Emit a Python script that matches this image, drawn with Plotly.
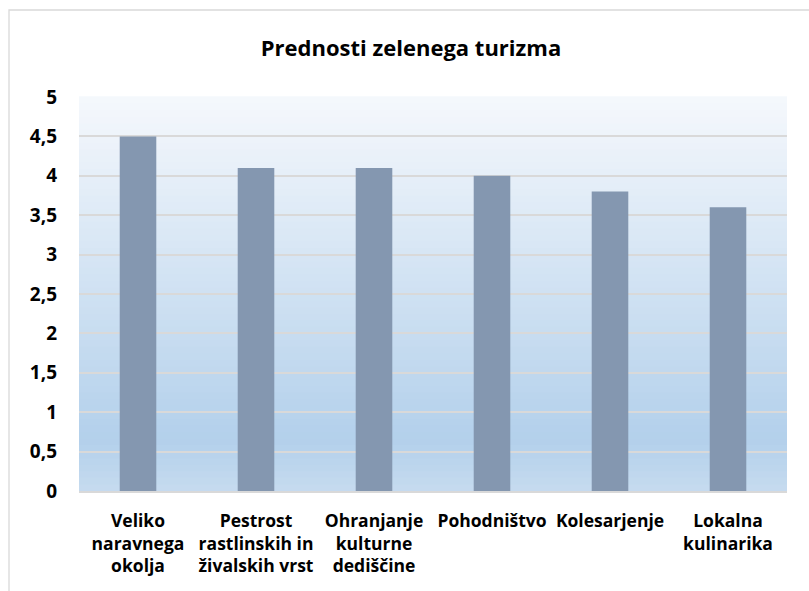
import plotly.graph_objects as go

categories = [
    "Veliko<br>naravnega<br>okolja",
    "Pestrost<br>rastlinskih in<br>živalskih vrst",
    "Ohranjanje<br>kulturne<br>dediščine",
    "Pohodništvo",
    "Kolesarjenje",
    "Lokalna<br>kulinarika",
]
values = [4.5, 4.1, 4.1, 4.0, 3.8, 3.6]
tick_vals = [0, 0.5, 1, 1.5, 2, 2.5, 3, 3.5, 4, 4.5, 5]
tick_text = ["0", "0,5", "1", "1,5", "2", "2,5", "3", "3,5", "4", "4,5", "5"]
title_text = "Prednosti zelenega turizma"

FONT = "Open Sans"
W, H = 809, 591
L, R, T, B = 79, 22, 97, 100
pw, ph = W - L - R, H - T - B

fig = go.Figure(go.Bar(
    x=categories, y=values,
    marker=dict(color="#8497B0", line=dict(width=0)),
    width=0.31,
))

def lerp(c1, c2, t):
    return tuple(round(a + (b - a) * t) for a, b in zip(c1, c2))

stops = [(0.0, (0xC6, 0xDB, 0xEF)), (0.13, (0xB3, 0xD0, 0xEB)), (1.0, (0xF5, 0xF8, 0xFC))]
n = 60
shapes = []
for i in range(n):
    y0 = i / n
    y1 = (i + 1) / n
    t = (y0 + y1) / 2
    for (s0, c0), (s1, c1) in zip(stops[:-1], stops[1:]):
        if s0 <= t <= s1:
            c = lerp(c0, c1, (t - s0) / (s1 - s0))
            break
    shapes.append(dict(type="rect", xref="paper", yref="paper", x0=0, x1=1, y0=y0, y1=y1 + 0.002,
                       fillcolor="rgb(%d,%d,%d)" % c, line=dict(width=0), layer="below"))

# chart frame
shapes.append(dict(type="rect", xref="paper", yref="paper",
                   x0=(9 - L) / pw, x1=(815 - L) / pw,
                   y0=(H - B - 600) / ph, y1=(H - B - 10) / ph,
                   line=dict(color="#D9D9D9", width=1.3), fillcolor="rgba(0,0,0,0)", layer="below"))

fig.update_layout(
    width=W, height=H,
    margin=dict(l=L, r=R, t=T, b=B, autoexpand=False),
    paper_bgcolor="white",
    plot_bgcolor="rgba(0,0,0,0)",
    shapes=shapes,
    showlegend=False,
    bargap=0.69,
    title=dict(text=title_text, x=411 / W, xanchor="center", y=1 - 48 / H, yanchor="middle",
               font=dict(family=FONT, size=22, color="#000000", weight="bold")),
    xaxis=dict(
        tickfont=dict(family=FONT, size=17.5, color="#000000", weight="bold"),
        showgrid=False, showline=True, linecolor="#D9D9D9", linewidth=1.5,
        ticks="", ticklabelstandoff=13, automargin=False,
    ),
    yaxis=dict(
        range=[0, 5], tickvals=tick_vals, ticktext=tick_text,
        tickfont=dict(family=FONT, size=19, color="#000000", weight="bold"),
        showgrid=True, gridcolor="#D9D9D9", gridwidth=1.5,
        zeroline=False, showline=False, ticks="", ticklabelstandoff=21, automargin=False,
    ),
)

fig.write_html("out.html", config={"displayModeBar": False},
               post_script="document.body.style.margin='0';")
